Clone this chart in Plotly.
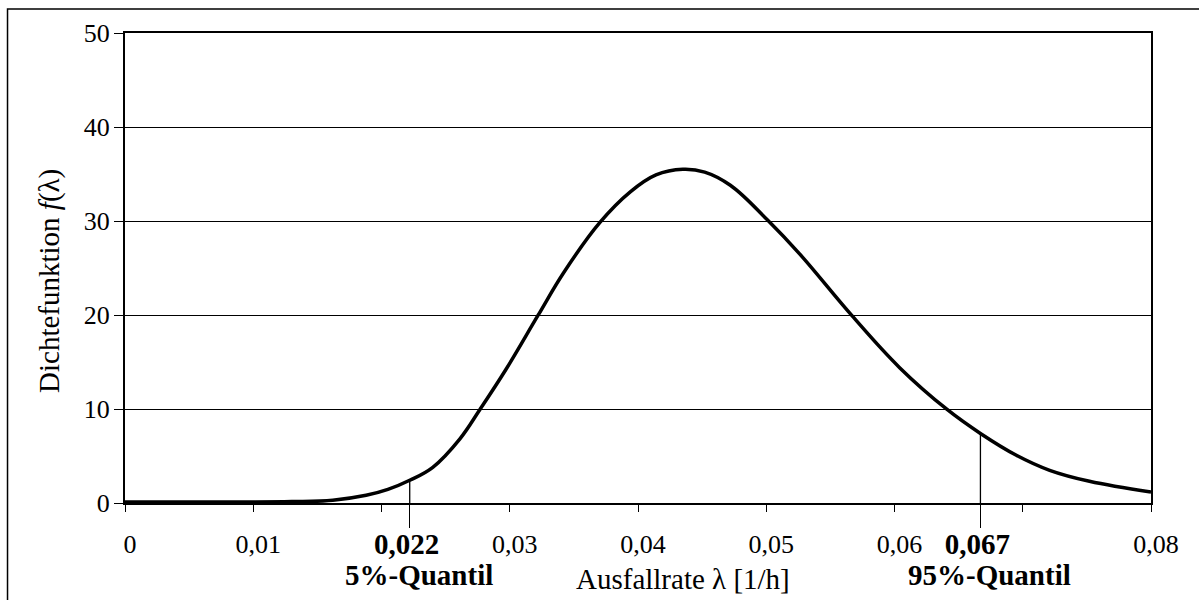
import plotly.graph_objects as go

# Density curve
lam = [0.0, 0.005, 0.010, 0.013, 0.0162, 0.0188, 0.0205, 0.0222, 0.0240, 0.0261,
       0.0277, 0.0297, 0.0322, 0.0342, 0.0370, 0.0394, 0.0414, 0.0435, 0.0452,
       0.0472, 0.0501, 0.0526, 0.0567, 0.0604, 0.0641, 0.0667, 0.0695, 0.0721,
       0.0752, 0.0800]
dens = [0.1, 0.1, 0.1, 0.15, 0.3, 0.82, 1.45, 2.42, 3.8, 6.8,
        10.0, 14.2, 19.95, 24.5, 29.8, 33.1, 34.9, 35.5, 35.2,
        33.8, 30.1, 26.5, 19.9, 14.4, 9.95, 7.4, 5.08, 3.48,
        2.31, 1.17]

# Quantiles
q_x = [0.0222, 0.0667]
q_f = [2.42, 7.4]
q_ticktext = ["<b>0,022</b>", "<b>0,067</b>"]
q_names = ["<b>5%-Quantil</b>", "<b>95%-Quantil</b>"]

# Axis ticks
x_tickvals = [0.0, 0.01, 0.02, 0.03, 0.04, 0.05, 0.06, 0.07, 0.08]
x_ticktext = ["0", "0,01", "", "0,03", "0,04", "0,05", "0,06", "", "0,08"]
y_tickvals = [0, 10, 20, 30, 40, 50]

FONT = "Liberation Serif"
FS = 26
FT = 29

fig = go.Figure()

for qx, qf in zip(q_x, q_f):
    fig.add_trace(go.Scatter(x=[qx, qx], y=[0, qf], mode="lines",
                             line=dict(color="black", width=1.3),
                             xaxis="x2", yaxis="y", showlegend=False,
                             hoverinfo="skip"))

fig.add_trace(go.Scatter(x=lam, y=dens, mode="lines",
                         line=dict(color="black", width=3.5, shape="spline", smoothing=1.1),
                         showlegend=False))

fig.update_layout(
    width=1199, height=600,
    margin=dict(l=125, r=48, t=33, b=97),
    paper_bgcolor="white", plot_bgcolor="white",
    font=dict(family=FONT, size=FS, color="black"),
    xaxis=dict(range=[0, 0.08], tickvals=x_tickvals, ticktext=x_ticktext,
               ticks="outside", ticklen=7, tickwidth=1.3, tickcolor="black",
               showline=True, linecolor="black", linewidth=2, mirror=True,
               showgrid=False, zeroline=False, ticklabelstandoff=10,
               ticklabelshift=5, tickfont=dict(family=FONT, size=FS)),
    xaxis2=dict(range=[0, 0.08], overlaying="x", anchor="y", side="bottom",
                tickvals=q_x, ticktext=q_ticktext,
                ticks="outside", ticklen=24, tickwidth=1.3, tickcolor="black",
                showline=False, showgrid=False, zeroline=False,
                ticklabelstandoff=-9, ticklabelshift=-3,
                tickfont=dict(family=FONT, size=FT)),
    yaxis=dict(range=[0, 50], tickvals=y_tickvals,
               ticks="outside", ticklen=9, tickwidth=1.3, tickcolor="black",
               showline=True, linecolor="black", linewidth=2, mirror=True,
               showgrid=True, gridcolor="black", gridwidth=1,
               zeroline=False, ticklabelstandoff=-1,
               tickfont=dict(family=FONT, size=FS)),
)

for qx, name in zip(q_x, q_names):
    fig.add_annotation(x=qx + 0.0007, xref="x", y=-0.154, yref="paper",
                       text=name, showarrow=False, xanchor="center", yanchor="middle",
                       font=dict(family=FONT, size=FT))

fig.add_annotation(x=0.544, xref="paper", y=-0.162, yref="paper",
                   text="Ausfallrate λ [1/h]", showarrow=False,
                   xanchor="center", yanchor="middle", font=dict(family=FONT, size=FT))

fig.add_annotation(x=-0.0741, xref="paper", y=0.4723, yref="paper",
                   text="Dichtefunktion <i>f</i>(λ)", textangle=-90, showarrow=False,
                   xanchor="center", yanchor="middle", font=dict(family=FONT, size=FT))

# Outer chart border
fig.add_shape(type="rect", xref="paper", yref="paper",
              x0=-0.1145, y0=-0.215, x1=1.06, y1=1.0511,
              line=dict(color="black", width=1.5), fillcolor="rgba(0,0,0,0)")

fig.write_html("out.html")
